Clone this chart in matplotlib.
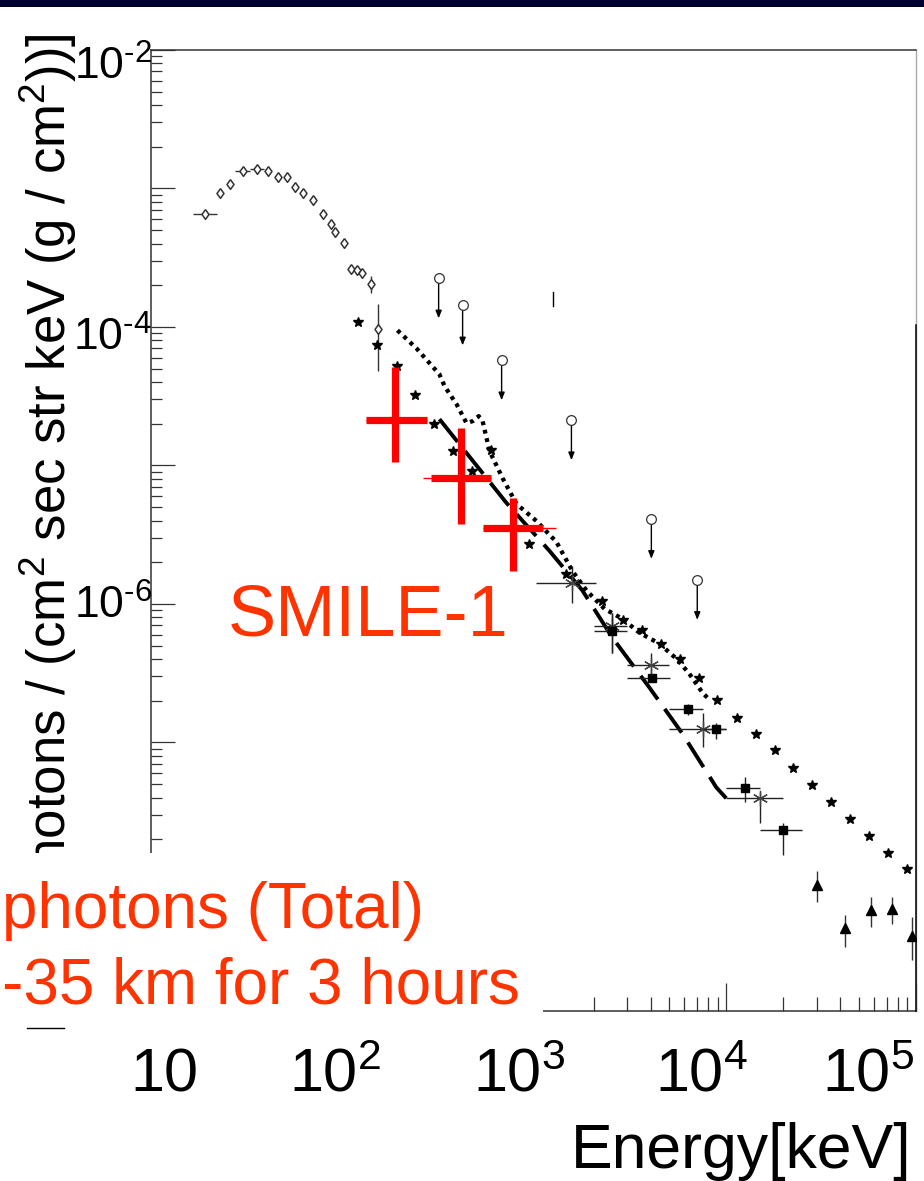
import numpy as np
import matplotlib
matplotlib.use("Agg")
import matplotlib.pyplot as plt
from matplotlib.patches import Rectangle
from matplotlib.lines import Line2D
from matplotlib.ticker import LogLocator, NullFormatter

plt.rcParams['font.family'] = ['Liberation Sans', 'DejaVu Sans']
plt.rcParams['mathtext.fontset'] = 'custom'
plt.rcParams['mathtext.rm'] = 'Liberation Sans'
plt.rcParams['mathtext.it'] = 'Liberation Sans:italic'
plt.rcParams['mathtext.bf'] = 'Liberation Sans:bold'

# energy in keV, flux in photons / (cm2 sec str keV (g/cm2))
# open diamonds
diamond_e = [17.9, 21.5, 24.2, 28.4, 33.6, 38.4, 43.3, 48.3, 53.2, 58.7, 66.2, 74.8,
             82.4, 86.5, 96.4, 105, 113, 121, 135, 147]
diamond_f = [6.58e-4, 9.33e-4, 1.08e-3, 1.34e-3, 1.39e-3, 1.34e-3, 1.22e-3, 1.22e-3,
             1.03e-3, 9.33e-4, 8.30e-4, 6.58e-4, 5.57e-4, 4.89e-4, 4.07e-4, 2.64e-4,
             2.60e-4, 2.47e-4, 2.03e-4, 9.62e-5]
diamond_elo = [15.5, 21.5, 24.2, 25.8, 30.8, 38.4, 43.3, 48.3, 53.2, 58.7, 66.2, 74.8,
               82.4, 86.5, 96.4, 105, 113, 121, 135, 147]
diamond_ehi = [20.7, 21.5, 24.2, 30.8, 36.6, 38.4, 43.3, 48.3, 53.2, 58.7, 66.2, 74.8,
               82.4, 86.5, 96.4, 105, 113, 121, 135, 147]
diamond_flo = diamond_f[:18] + [1.75e-4, 4.79e-5]
diamond_fhi = diamond_f[:18] + [2.32e-4, 1.46e-4]

# filled stars
star_e = [114, 144, 183, 228, 290, 361, 455, 573, 908, 1439, 2225, 2871, 3614, 4549,
          5728, 7211, 8970, 11430, 14380, 18110, 22530, 28380, 35720, 44990, 56610,
          71270, 89760]
star_f = [1.08e-4, 7.36e-5, 5.20e-5, 3.21e-5, 1.99e-5, 1.27e-5, 9.12e-6, 1.29e-5,
          2.72e-6, 1.65e-6, 1.05e-6, 7.69e-7, 6.52e-7, 5.17e-7, 4.03e-7, 2.94e-7,
          2.04e-7, 1.49e-7, 1.16e-7, 8.75e-8, 6.50e-8, 4.90e-8, 3.70e-8, 2.79e-8,
          2.10e-8, 1.58e-8, 1.22e-8]

# upper limits (open circles with arrows)
ul_e = [305, 408, 655, 1528, 4030, 7035]
ul_f = [2.24e-4, 1.43e-4, 5.74e-5, 2.12e-5, 4.11e-6, 1.49e-6]

# dotted curve
dot_e = [185, 233, 308, 328, 379, 428, 461, 496, 520, 566, 662, 785, 1000, 1274, 1546,
         1834, 2281, 2838, 3486, 4438, 5456, 6383, 7488, 7943]
dot_f = [9.46e-5, 7.01e-5, 4.55e-5, 3.73e-5, 2.77e-5, 2.02e-5, 2.09e-5, 2.27e-5,
         2.09e-5, 1.27e-5, 8.11e-6, 5.27e-6, 3.97e-6, 2.8e-6, 1.73e-6, 1.25e-6,
         9.23e-7, 7.81e-7, 6.20e-7, 5.17e-7, 4.03e-7, 3.14e-7, 2.29e-7, 2.11e-7]

# dashed curve
dash_e = [308, 695, 1170, 1746, 2512, 3936, 5866, 8861, 10000]
dash_f = [2.16e-5, 5.36e-6, 2.42e-6, 1.25e-6, 5.71e-7, 2.49e-7, 1.16e-7, 4.74e-8, 3.95e-8]

# asterisks
ast_e = [1546, 2512, 4030, 7568, 15110]
ast_f = [1.42e-6, 6.9e-7, 3.65e-7, 1.26e-7, 3.95e-8]
ast_elo = [1000, 2018, 3013, 5012, 10000]
ast_ehi = [2047, 3013, 5012, 10000, 19950]
ast_flo = [1.02e-6, 4.45e-7, 2.89e-7, 9.2e-8, 2.61e-8]
ast_fhi = [1.88e-6, 8.65e-7, 4.45e-7, 1.62e-7, 4.37e-8]

# filled squares
sq_e = [2512, 4083, 6310, 8861, 12590, 19950]
sq_f = [6.41e-7, 2.94e-7, 1.73e-7, 1.24e-7, 4.67e-8, 2.32e-8]
sq_elo = [2018, 3013, 5012, 7568, 10000, 15110]
sq_ehi = [3013, 5070, 7568, 10000, 15110, 25120]
sq_flo = [4.45e-7, 2.94e-7, 1.57e-7, 1.05e-7, 3.70e-8, 1.53e-8]
sq_fhi = [8.65e-7, 2.94e-7, 1.91e-7, 1.39e-7, 5.60e-8, 2.61e-8]

# filled triangles
tri_e = [30130, 42270, 57940, 74820, 95230]
tri_f = [9.33e-9, 4.57e-9, 6.17e-9, 6.27e-9, 4.00e-9]
tri_flo = [7.03e-9, 3.33e-9, 4.65e-9, 4.89e-9, 2.69e-9]
tri_fhi = [1.18e-8, 5.68e-9, 7.64e-9, 7.64e-9, 5.48e-9]

# SMILE-1 red crosses
smile_e = [179, 398, 748]
smile_elo = [127, 277, 520]
smile_ehi = [264, 573, 1077]
smile_f = [2.12e-5, 8.11e-6, 3.54e-6]
smile_flo = [1.06e-5, 3.79e-6, 1.73e-6]
smile_fhi = [5.12e-5, 1.86e-5, 5.82e-6]
smile_thin_elo = [127, 251, 520]
smile_thin_ehi = [264, 573, 1274]

x_labels = ['10', r'$\mathregular{10^{2}}$', r'$\mathregular{10^{3}}$',
            r'$\mathregular{10^{4}}$', r'$\mathregular{10^{5}}$']
y_labels = [r'$\mathregular{10^{\text{-}2}}$', r'$\mathregular{10^{\text{-}4}}$',
            r'$\mathregular{10^{\text{-}6}}$']


def asym(v, lo, hi):
    v = np.asarray(v, float)
    return [v - np.asarray(lo, float), np.asarray(hi, float) - v]


W, H = 924, 1181


def fx(px):
    return px / W


def fy(py):
    return 1 - py / H


fig = plt.figure(figsize=(W / 100, H / 100), dpi=100)
fig.patch.set_facecolor('white')
ax = fig.add_axes([fx(151), fy(1011), fx(916) - fx(151), fy(50) - fy(1011)])
ax.set_xscale('log')
ax.set_yscale('log')
ax.set_xlim(9.3, 1.0e5)
ax.set_ylim(1.15e-9, 1.0e-2)

# curves
ax.plot(dot_e, dot_f, color='black', lw=3.1, ls=(0, (0.9, 1.1)), zorder=2)
ax.plot(dash_e, dash_f, color='black', lw=2.8, ls=(0, (7.5, 3.0)), zorder=2)

# diamonds
diamond_marker = [(0, 1), (0.72, 0), (0, -1), (-0.72, 0), (0, 1)]
ax.errorbar(diamond_e, diamond_f,
            xerr=asym(diamond_e, diamond_elo, diamond_ehi),
            yerr=asym(diamond_f, diamond_flo, diamond_fhi),
            fmt='none', ecolor='#333333', elinewidth=1.0, capsize=0, zorder=3)
ax.plot(diamond_e, diamond_f, ls='none', marker=diamond_marker, ms=7, mfc='white',
        mec='#333333', mew=1.1, zorder=3)

# stars
ax.plot(star_e, star_f, ls='none', marker='*', ms=7.5, color='black', zorder=3)

# asterisks
ax.errorbar(ast_e, ast_f, xerr=asym(ast_e, ast_elo, ast_ehi),
            yerr=asym(ast_f, ast_flo, ast_fhi), fmt='none',
            ecolor='#222222', elinewidth=1.0, capsize=0, zorder=3)
ax.plot(ast_e, ast_f, ls='none', marker=(6, 2, 0), ms=11, mec='#444444',
        mew=0.9, zorder=3)

# squares
ax.errorbar(sq_e, sq_f, xerr=asym(sq_e, sq_elo, sq_ehi),
            yerr=asym(sq_f, sq_flo, sq_fhi), fmt='s', ms=6, color='black',
            ecolor='#222222', elinewidth=1.0, capsize=0, zorder=4)

# triangles
ax.errorbar(tri_e, tri_f, yerr=asym(tri_f, tri_flo, tri_fhi), fmt='^', ms=7,
            color='black', ecolor='#333333', elinewidth=1.0, capsize=0, zorder=4)

# upper limits
for e, f in zip(ul_e, ul_f):
    ax.annotate('', xy=(e, f * 0.515), xytext=(e, f),
                arrowprops=dict(arrowstyle='-|>,head_length=0.45,head_width=0.18',
                                color='black', lw=1.0, shrinkA=0, shrinkB=0),
                zorder=3)
ax.plot(ul_e, ul_f, ls='none', marker='o', ms=7, mfc='white', mec='#333333',
        mew=0.9, zorder=4)

# SMILE-1
ax.errorbar(smile_e, smile_f, xerr=asym(smile_e, smile_thin_elo, smile_thin_ehi),
            fmt='none', ecolor='red', elinewidth=1.0, capsize=0, zorder=5)
ax.errorbar(smile_e, smile_f, xerr=asym(smile_e, smile_elo, smile_ehi),
            yerr=asym(smile_f, smile_flo, smile_fhi), fmt='none',
            ecolor='red', elinewidth=5.2, capsize=0, zorder=6)

# axes style
ax.xaxis.set_major_locator(LogLocator(base=10, numticks=30))
ax.xaxis.set_minor_locator(LogLocator(base=10, subs=np.arange(2, 10), numticks=30))
ax.yaxis.set_major_locator(LogLocator(base=10, numticks=30))
ax.yaxis.set_minor_locator(LogLocator(base=10, subs=np.arange(2, 10), numticks=30))
ax.xaxis.set_minor_formatter(NullFormatter())
ax.yaxis.set_minor_formatter(NullFormatter())
ax.tick_params(which='both', direction='in', top=False, right=False,
               labelbottom=False, labelleft=False, color='#333333', width=0.9)
ax.tick_params(axis='x', which='major', length=20)
ax.tick_params(axis='x', which='minor', length=10)
ax.tick_params(axis='y', which='major', length=17)
ax.tick_params(axis='y', which='minor', length=8)
for s in ['left', 'bottom', 'top']:
    ax.spines[s].set_color('#333333')
    ax.spines[s].set_linewidth(1.1)
ax.spines['right'].set_color('#aaaaaa')
ax.spines['right'].set_linewidth(1.0)

# stray slide marks
fig.add_artist(Line2D([fx(916), fx(916)], [fy(325), fy(1011)], color='black', lw=1.1))
fig.add_artist(Line2D([fx(553), fx(553)], [fy(292), fy(306)], color='black', lw=1.0))

# tick labels (placed as on the slide)
for lab, cx in zip(x_labels, [164, 335, 519, 702, 868]):
    fig.text(fx(cx), fy(1092), lab, ha='center', va='baseline', fontsize=44)
for lab, by in zip(y_labels, [80, 351, 619]):
    fig.text(fx(152), fy(by), lab, ha='right', va='baseline', fontsize=32)

fig.text(fx(912), fy(1168), 'Energy[keV]', ha='right', va='baseline', fontsize=45)
fig.text(fx(48), fy(33), r'photons / (cm$^2$ sec str keV (g / cm$^2$))]',
         rotation=90, ha='center', va='top', fontsize=38)

# white box over lower-left corner with red text
fig.add_artist(Rectangle((0, fy(1020)), fx(543), (1020 - 853) / H,
                         transform=fig.transFigure, facecolor='white',
                         edgecolor='none', zorder=10))
fig.add_artist(Line2D([fx(27), fx(64)], [fy(1028), fy(1028)], color='black', lw=1.0,
                      zorder=11))
fig.text(fx(2), fy(928), 'photons (Total)', color='#ff3300', fontsize=46,
         ha='left', va='baseline', zorder=12)
fig.text(fx(2), fy(1003), '-35 km for 3 hours', color='#ff3300', fontsize=46,
         ha='left', va='baseline', zorder=12)
fig.text(fx(228), fy(636), 'SMILE-1', color='#ff3300', fontsize=52,
         ha='left', va='baseline', zorder=12)

# dark slide header strip
fig.add_artist(Rectangle((0, fy(7)), 1, 7 / H, transform=fig.transFigure,
                         facecolor='#000030', edgecolor='none', zorder=12))

fig.savefig('out.png', dpi=100)
